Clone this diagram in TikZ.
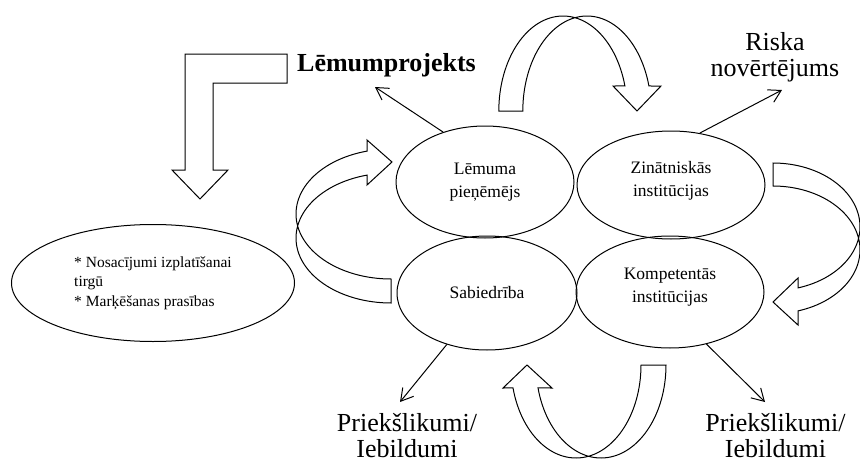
\documentclass[tikz,border=0pt]{standalone}
\usepackage{fontspec}
\setmainfont{Liberation Serif}
\usetikzlibrary{shapes.geometric,arrows.meta}
\begin{document}
\begin{tikzpicture}[x=1pt,y=-1pt,line width=1pt,
  actor/.style={draw, ellipse, inner sep=0pt, align=center,
    font=\fontsize{17.5}{23}\selectfont},
  bigtext/.style={inner sep=0pt, align=center, font=\fontsize{26}{26}\selectfont},
  conn/.style={-{Straight Barb[length=12pt,width=14pt]}},
  blockarrow/.style={draw, fill=white, line join=miter},
]
\useasboundingbox (0,0) rectangle (860,463);

% --- the four actors in the middle ---
\node[actor, minimum width=178pt, minimum height=112pt] (lem) at (485,182) {Lēmuma\\pieņēmējs};
\node[actor, minimum width=180pt, minimum height=114pt] (sab) at (487,293) {Sabiedrība};
\node[actor, minimum width=188pt, minimum height=108pt, text depth=13pt] (zin) at (671,185) {Zinātniskās\\institūcijas};
\node[actor, minimum width=188pt, minimum height=112pt, text depth=13pt] (komp) at (670,292) {Kompetentās\\institūcijas};

% --- outcome ellipse on the left ---
\node[draw, ellipse, inner sep=0pt, minimum width=283pt, minimum height=117pt,
      align=left, font=\fontsize{15.5}{19.5}\selectfont] (cond) at (153,283)
  {* Nosacījumi izplatīšanai\\tirgū\\* Marķēšanas prasības};

% --- labels ---
\node[inner sep=0pt, anchor=base, font=\bfseries\fontsize{26}{27}\selectfont] (proj) at (386.5,71) {Lēmumprojekts};
\node[bigtext] (risk) at (775,57.5) {Riska\\novērtējums};
\node[bigtext] (objL) at (407,436) {Priekšlikumi/\\Iebildumi};
\node[bigtext] (objR) at (775.5,436) {Priekšlikumi/\\Iebildumi};

% --- straight connectors ---
\coordinate (projTip) at (375,87);
\coordinate (riskTip) at (782,90);
\coordinate (objLTip) at (400,402);
\coordinate (objRTip) at (765,402);
\draw[conn] (lem.130) -- (projTip);
\draw[conn] (zin.61) -- (riskTip);
\draw[conn] (sab.232) -- (objLTip);
\draw[conn] (komp.305) -- (objRTip);

% --- block arrows ---
% bent arrow from the draft down to the conditions
\draw[blockarrow] (185,54) -- (287,54) -- (287,83) -- (213,83) -- (213,170)
  -- (228,170) -- (200,199) -- (172,170) -- (185,170) -- cycle;

% curved arrow over the top (left to right)
\draw[blockarrow]
  plot[domain=180:15.26, samples=60] ({563+64.2*cos(\x)}, {111-95*sin(\x)})
  -- (613,86) -- (637,111) -- (661,86)
  -- plot[domain=15.26:180, samples=60] ({587+64.2*cos(\x)}, {111-95*sin(\x)})
  -- cycle;

% curved arrow on the right (top to bottom)
\draw[blockarrow]
  plot[domain=270:433.3, samples=60] ({773+87*cos(\x)}, {226.8+63.8*sin(\x)})
  -- (798,278) -- (773,302) -- (798,325)
  -- plot[domain=433.3:270, samples=60] ({773+87*cos(\x)}, {249.8+63.8*sin(\x)})
  -- cycle;

% curved arrow under the bottom (right to left)
\draw[blockarrow]
  plot[domain=0:165.7, samples=60] ({601+65*cos(\x)}, {365+93*sin(\x)})
  -- (552,388) -- (527,365) -- (503,388)
  -- plot[domain=165.7:0, samples=60] ({576+65*cos(\x)}, {365+93*sin(\x)})
  -- cycle;

% curved arrow on the left (bottom to top)
\draw[blockarrow]
  plot[domain=90:255.4, samples=60] ({391+95*cos(\x)}, {238+65*sin(\x)})
  -- (367,185) -- (392,162) -- (367,140)
  -- plot[domain=255.4:90, samples=60] ({391+95*cos(\x)}, {214+65*sin(\x)})
  -- cycle;
\end{tikzpicture}
\end{document}
